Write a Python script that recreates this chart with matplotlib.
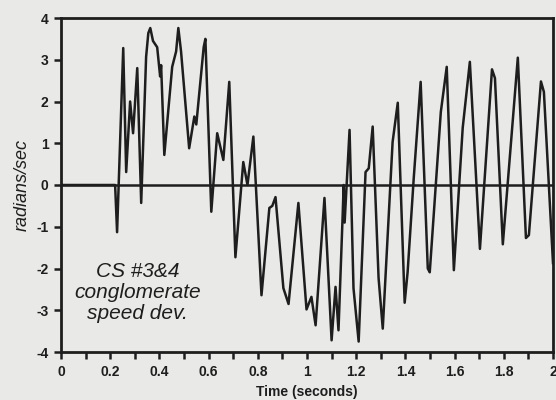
import numpy as np
import matplotlib
matplotlib.use('Agg')
import matplotlib.pyplot as plt

# time (s) and speed deviation (rad/s)
time_s = [0, 0.22, 0.228, 0.253, 0.265, 0.281, 0.293, 0.310, 0.326, 0.346,
          0.355, 0.363, 0.374, 0.391, 0.403, 0.407, 0.420, 0.452, 0.468, 0.477,
          0.488, 0.521, 0.542, 0.550, 0.580, 0.587, 0.611, 0.635, 0.660, 0.684,
          0.709, 0.741, 0.758, 0.782, 0.815, 0.847, 0.859, 0.872, 0.904, 0.925,
          0.965, 0.998, 1.018, 1.035, 1.071, 1.100, 1.116, 1.128, 1.145, 1.149,
          1.153, 1.173, 1.189, 1.210, 1.238, 1.251, 1.267, 1.291, 1.308, 1.348,
          1.369, 1.397, 1.409, 1.434, 1.462, 1.491, 1.499, 1.544, 1.568, 1.597,
          1.633, 1.662, 1.703, 1.752, 1.764, 1.796, 1.857, 1.890, 1.902, 1.951,
          1.963, 2.0]
speed_dev = [0, 0, -1.13, 3.28, 0.31, 2.0, 1.24, 2.8, -0.43, 3.07,
             3.64, 3.76, 3.45, 3.3, 2.6, 2.87, 0.72, 2.83, 3.2, 3.76,
             3.2, 0.88, 1.64, 1.45, 3.3, 3.5, -0.64, 1.24, 0.6, 2.47,
             -1.73, 0.55, 0.0, 1.16, -2.64, -0.55, -0.5, -0.29, -2.47, -2.85,
             -0.43, -2.98, -2.68, -3.36, -0.31, -3.72, -2.44, -3.48, -0.72, 0.0,
             -0.9, 1.32, -2.47, -3.75, 0.31, 0.4, 1.4, -2.23, -3.44, 1.03,
             1.97, -2.82, -2.09, 0.17, 2.47, -2.0, -2.09, 1.75, 2.83, -2.04,
             1.37, 2.95, -1.53, 2.77, 2.56, -1.42, 3.05, -1.27, -1.2, 2.48,
             2.23, -1.87]

x_major = [0, 0.2, 0.4, 0.6, 0.8, 1, 1.2, 1.4, 1.6, 1.8, 2]
x_labels = ['0', '0.2', '0.4', '0.6', '0.8', '1', '1.2', '1.4', '1.6', '1.8', '2']
y_major = [-4, -3, -2, -1, 0, 1, 2, 3, 4]

bg = '#e9e9e7'
ink = '#1e1e1e'
plt.rcParams['font.family'] = ['Liberation Sans', 'DejaVu Sans']
plt.rcParams['axes.unicode_minus'] = False

fig = plt.figure(figsize=(5.56, 4.0), dpi=100, facecolor=bg)
ax = fig.add_axes([0.1097, 0.12, 0.8849, 0.835], facecolor=bg)

ax.axhline(0, color=ink, lw=1.8, zorder=1)
ax.plot(time_s, speed_dev, color=ink, lw=1.8, zorder=2, solid_joinstyle='round')

ax.set_xlim(0, 2)
ax.set_ylim(-4, 4)
ax.set_xticks(x_major)
ax.set_xticklabels(x_labels)
ax.set_xticks(np.arange(0.1, 2, 0.2), minor=True)
ax.set_yticks(y_major)
ax.tick_params(axis='both', which='both', direction='out', length=5, width=1.8,
               color=ink, labelcolor=ink, labelsize=10, pad=4)
for lab in ax.get_xticklabels() + ax.get_yticklabels():
    lab.set_fontweight('bold')

for s in ax.spines.values():
    s.set_linewidth(2.0)
    s.set_color(ink)

ax.set_xlabel('Time (seconds)', fontsize=10, fontweight='bold', color=ink, labelpad=5)
ax.set_ylabel('radians/sec', fontsize=13, style='italic', color=ink, labelpad=4)

ax.text(0.31, -2.57, 'CS #3&4\nconglomerate\nspeed dev.', fontsize=15, style='italic',
        color=ink, ha='center', va='center', linespacing=1.15)

fig.savefig('out.png', dpi=100, facecolor=bg)
